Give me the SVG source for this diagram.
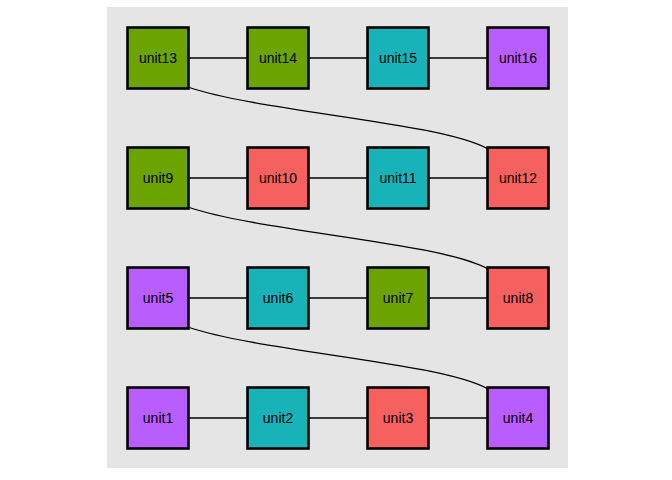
<svg xmlns="http://www.w3.org/2000/svg" width="672" height="480" viewBox="0 0 672 480">
  <style>
    .panel { fill: #e5e5e5; }
    .edge { fill: none; stroke: #000; stroke-width: 1.3; }
    .box { stroke: #000; stroke-width: 2.6; }
    .lbl { font-family: "Liberation Sans", Arial, sans-serif; font-size: 14px; fill: #000; text-anchor: middle; }
    .green { fill: #6ba300; }
    .teal { fill: #17b3b9; }
    .red { fill: #f6605e; }
    .purple { fill: #b95dff; }
  </style>
  <defs>
    <rect id="sq" x="-30.5" y="-30.5" width="61" height="61"/>
  </defs>
  <rect class="panel" x="107" y="7" width="461" height="461"/>

  <g id="connectors">
    <!-- row links -->
    <path class="edge" d="M158,58 H518"/>
    <path class="edge" d="M158,178 H518"/>
    <path class="edge" d="M158,298 H518"/>
    <path class="edge" d="M158,418 H518"/>
    <!-- links from each row start to the end of the row below -->
    <path class="edge" d="M188,87 C260,112 440,122 488,149"/>
    <path class="edge" d="M188,207 C260,232 440,242 488,269"/>
    <path class="edge" d="M188,327 C260,352 440,362 488,389"/>
  </g>

  <g id="unit13" transform="translate(158,58)"><use href="#sq" class="box green"/><text class="lbl" y="5">unit13</text></g>
  <g id="unit14" transform="translate(278,58)"><use href="#sq" class="box green"/><text class="lbl" y="5">unit14</text></g>
  <g id="unit15" transform="translate(398,58)"><use href="#sq" class="box teal"/><text class="lbl" y="5">unit15</text></g>
  <g id="unit16" transform="translate(518,58)"><use href="#sq" class="box purple"/><text class="lbl" y="5">unit16</text></g>

  <g id="unit9" transform="translate(158,178)"><use href="#sq" class="box green"/><text class="lbl" y="5">unit9</text></g>
  <g id="unit10" transform="translate(278,178)"><use href="#sq" class="box red"/><text class="lbl" y="5">unit10</text></g>
  <g id="unit11" transform="translate(398,178)"><use href="#sq" class="box teal"/><text class="lbl" y="5">unit11</text></g>
  <g id="unit12" transform="translate(518,178)"><use href="#sq" class="box red"/><text class="lbl" y="5">unit12</text></g>

  <g id="unit5" transform="translate(158,298)"><use href="#sq" class="box purple"/><text class="lbl" y="5">unit5</text></g>
  <g id="unit6" transform="translate(278,298)"><use href="#sq" class="box teal"/><text class="lbl" y="5">unit6</text></g>
  <g id="unit7" transform="translate(398,298)"><use href="#sq" class="box green"/><text class="lbl" y="5">unit7</text></g>
  <g id="unit8" transform="translate(518,298)"><use href="#sq" class="box red"/><text class="lbl" y="5">unit8</text></g>

  <g id="unit1" transform="translate(158,418)"><use href="#sq" class="box purple"/><text class="lbl" y="5">unit1</text></g>
  <g id="unit2" transform="translate(278,418)"><use href="#sq" class="box teal"/><text class="lbl" y="5">unit2</text></g>
  <g id="unit3" transform="translate(398,418)"><use href="#sq" class="box red"/><text class="lbl" y="5">unit3</text></g>
  <g id="unit4" transform="translate(518,418)"><use href="#sq" class="box purple"/><text class="lbl" y="5">unit4</text></g>
</svg>
